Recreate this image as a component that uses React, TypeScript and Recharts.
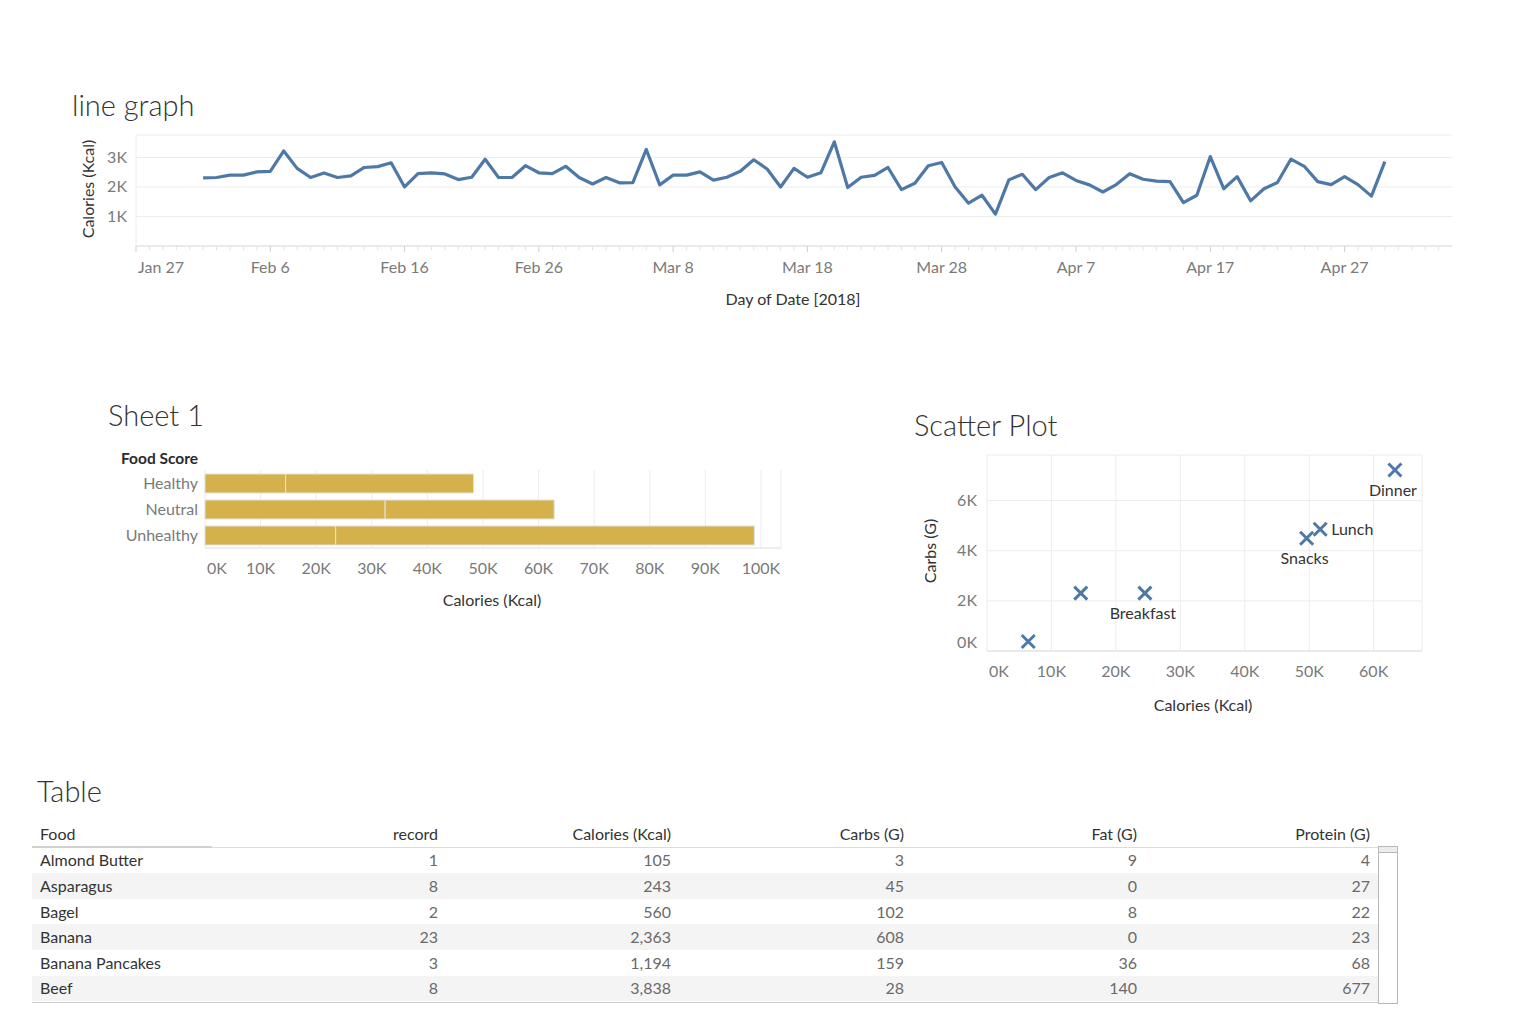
import React from 'react';
import {
  LineChart, Line, XAxis, YAxis, CartesianGrid,
  BarChart, Bar, ScatterChart, Scatter,
} from 'recharts';

const FONT = 'Lato, "Open Sans", "DejaVu Sans", sans-serif';
const BLUE = '#4e79a7';
const GOLD = '#d4b14b';
const GRID = '#ececec';
const AXIS = '#dedede';
const TICK = '#7a7a7a';
const DARK = '#333333';
const TICK_SIZE = 16;
const TEXT_SIZE = 16;
const TITLE_SIZE = 29;

// ---- Daily calories, Feb 1 – Apr 30 2018 ----
const febCalories = [
  2310, 2320, 2400, 2400, 2510, 2530, 3220, 2630, 2320, 2470, 2320, 2375, 2660, 2690,
  2820, 2000, 2450, 2480, 2440, 2250, 2330, 2940, 2320, 2320, 2720, 2480, 2450, 2700,
];
const marCalories = [
  2320, 2100, 2320, 2140, 2150, 3270, 2070, 2400, 2400, 2510, 2230, 2330, 2530, 2920,
  2610, 2000, 2630, 2330, 2480, 3530, 1980, 2330, 2390, 2660, 1910, 2125, 2720, 2830,
  2000, 1450, 1720,
];
const aprCalories = [
  1080, 2240, 2430, 1910, 2320, 2480, 2220, 2070, 1830, 2080, 2450, 2260, 2200, 2180,
  1470, 1720, 3030, 1940, 2350, 1530, 1940, 2150, 2940, 2700, 2180, 2080, 2350, 2080,
  1690, 2860,
];
// x axis counts days after Jan 27; Feb 1 is day 5
const axisStartDay = 0;
const firstDataDay = 5;
const lastAxisDay = 98;
const dateTickDays = [0, 10, 20, 30, 40, 50, 60, 70, 80, 90];
const dateTickLabels = ['Jan 27', 'Feb 6', 'Feb 16', 'Feb 26', 'Mar 8', 'Mar 18', 'Mar 28', 'Apr 7', 'Apr 17', 'Apr 27'];
const calorieTicks = [1000, 2000, 3000];

const dailyCalories = [...febCalories, ...marCalories, ...aprCalories];
const lineData = dailyCalories.map((v, i) => ({ day: firstDataDay + i, calories: v }));
const dayTicks = Array.from({ length: lastAxisDay - axisStartDay }, (_, i) => axisStartDay + i);

// ---- Calories by food score (two stacked parts each) ----
const foodScores = ['Healthy', 'Neutral', 'Unhealthy'];
const scoreFirstPart = [14500, 32400, 23500];
const scoreSecondPart = [33800, 30400, 75300];
const scoreTicks = [0, 10000, 20000, 30000, 40000, 50000, 60000, 70000, 80000, 90000, 100000];
const barData = foodScores.map((s, i) => ({ score: s, first: scoreFirstPart[i], second: scoreSecondPart[i] }));

// ---- Calories vs carbs by meal ----
const mealNames = ['', '', 'Breakfast', 'Snacks', 'Lunch', 'Dinner'];
const mealCalories = [6400, 14550, 24500, 49600, 51700, 63300];
const mealCarbs = [380, 2310, 2310, 4500, 4860, 7220];
const scatterXTicks = [0, 10000, 20000, 30000, 40000, 50000, 60000];
const scatterYTicks = [0, 2000, 4000, 6000];
const scatterData = mealNames.map((m, i) => ({ meal: m, calories: mealCalories[i], carbs: mealCarbs[i] }));

// ---- Table ----
const tableHeaders = ['Food', 'record', 'Calories (Kcal)', 'Carbs (G)', 'Fat (G)', 'Protein (G)'];
const foods = ['Almond Butter', 'Asparagus', 'Bagel', 'Banana', 'Banana Pancakes', 'Beef'];
const records = [1, 8, 2, 23, 3, 8];
const foodCalories = [105, 243, 560, 2363, 1194, 3838];
const foodCarbs = [3, 45, 102, 608, 159, 28];
const foodFat = [9, 0, 8, 0, 36, 140];
const foodProtein = [4, 27, 22, 23, 68, 677];

const kFmt = (v: number) => `${Math.round(v / 1000)}K`;

const Txt = ({ x, y, size = TEXT_SIZE, color = DARK, weight = 400, anchor = 'middle', rotate = false, children }: any) => {
  const tx = anchor === 'middle' ? '-50%' : anchor === 'end' ? '-100%' : '0';
  return (
    <div
      style={{
        position: 'absolute', left: x, top: y, whiteSpace: 'nowrap', fontSize: size, color,
        fontWeight: weight, lineHeight: 1, fontFamily: FONT,
        transform: `translate(${tx}, -50%)${rotate ? ' rotate(-90deg)' : ''}`,
        transformOrigin: rotate ? '50% 50%' : undefined,
      }}
    >
      {children}
    </div>
  );
};

const DateTick = ({ x, y, payload }: any) => {
  const idx = dateTickDays.indexOf(payload.value);
  const major = idx >= 0;
  return (
    <g>
      <line x1={x} x2={x} y1={y} y2={y + (major ? 6 : 4)} stroke={major ? '#cfcfcf' : '#e2e2e2'} />
      {major && (
        <text x={idx === 0 ? x + 2 : x} y={y + 27} textAnchor={idx === 0 ? 'start' : 'middle'}
          fill={TICK} fontSize={TICK_SIZE} fontFamily={FONT}>
          {dateTickLabels[idx]}
        </text>
      )}
    </g>
  );
};

const LeftTick = ({ x, y, payload, gap = 9, zeroLift = 0 }: any) => (
  <text x={x - gap} y={y + 5.5 - (payload.value === 0 ? zeroLift : 0)} textAnchor="end" fill={TICK}
    fontSize={TICK_SIZE} fontFamily={FONT}>
    {typeof payload.value === 'number' ? kFmt(payload.value) : payload.value}
  </text>
);

const BottomTick = ({ x, y, payload }: any) => {
  const first = payload.value === 0;
  return (
    <text x={first ? x + 2 : x} y={y + 26} textAnchor={first ? 'start' : 'middle'} fill={TICK}
      fontSize={TICK_SIZE} fontFamily={FONT}>
      {kFmt(payload.value)}
    </text>
  );
};

const CategoryTick = ({ x, y, payload }: any) => (
  <text x={x - 7} y={y + 5.5} textAnchor="end" fill={TICK} fontSize={TICK_SIZE} fontFamily={FONT}>
    {payload.value}
  </text>
);

// labels sit under their mark except where noted
const labelBeside: Record<string, boolean> = { Lunch: true };

const MealMark = (props: any) => {
  const { cx, cy, payload } = props;
  const r = 6.5;
  const name = payload?.meal;
  return (
    <g>
      <path d={`M${cx - r},${cy - r}L${cx + r},${cy + r}M${cx - r},${cy + r}L${cx + r},${cy - r}`}
        stroke={BLUE} strokeWidth={3} fill="none" />
      {name ? (
        labelBeside[name] ? (
          <text x={cx + 11} y={cy + 5.5} textAnchor="start" fill={DARK} fontSize={TEXT_SIZE} fontFamily={FONT}>{name}</text>
        ) : (
          <text x={cx - 2} y={cy + 26} textAnchor="middle" fill={DARK} fontSize={TEXT_SIZE} fontFamily={FONT}>{name}</text>
        )
      ) : null}
    </g>
  );
};

const colRight = [0, 438, 671, 904, 1137, 1370];
const tableLeft = 32;
const tableRight = 1378;
const headerLineY = 846.5;
const rowH = 25.6;

const DataTable = () => {
  const rows = foods.map((f, i) => [f, records[i], foodCalories[i], foodCarbs[i], foodFat[i], foodProtein[i]]);
  return (
    <>
      <Txt x={37} y={790} size={TITLE_SIZE} weight={300} anchor="start">Table</Txt>
      {tableHeaders.map((h, c) => (
        <Txt key={h} x={c === 0 ? 40 : colRight[c]} y={834} anchor={c === 0 ? 'start' : 'end'}>{h}</Txt>
      ))}
      <div style={{ position: 'absolute', left: tableLeft, top: headerLineY, width: tableRight - tableLeft, height: 1, background: '#dcdcdc' }} />
      <div style={{ position: 'absolute', left: tableLeft, top: headerLineY - 1, width: 180, height: 2, background: '#d0d0d0' }} />
      {rows.map((r, i) => {
        const top = headerLineY + 1 + i * rowH;
        return (
          <React.Fragment key={i}>
            {i % 2 === 1 && (
              <div style={{ position: 'absolute', left: tableLeft, top, width: tableRight - tableLeft, height: rowH, background: '#f4f4f4' }} />
            )}
            {r.map((v, c) => (
              <Txt key={c} x={c === 0 ? 40 : colRight[c]} y={top + rowH / 2} anchor={c === 0 ? 'start' : 'end'}
                color={c === 0 ? DARK : '#6a6a6a'}>
                {typeof v === 'number' ? v.toLocaleString('en-US') : v}
              </Txt>
            ))}
          </React.Fragment>
        );
      })}
      <div style={{ position: 'absolute', left: tableLeft, top: headerLineY + 1 + 6 * rowH + 1, width: tableRight - tableLeft, height: 1, background: '#cfcfcf' }} />
      <div style={{ position: 'absolute', left: 1378, top: 846, width: 18, height: 156, border: '1px solid #b8b8b8', background: '#fff' }} />
      <div style={{ position: 'absolute', left: 1379, top: 847, width: 18, height: 5, borderBottom: '1px solid #b8b8b8', background: '#ececec' }} />
    </>
  );
};

export default function App() {
  return (
    <div style={{ position: 'absolute', left: 0, top: 0, width: 1536, height: 1024, background: '#fff', overflow: 'hidden', fontFamily: FONT }}>
      {/* Daily calories line */}
      <Txt x={72} y={104} size={TITLE_SIZE} weight={300} anchor="start">line graph</Txt>
      <Txt x={88} y={189} rotate>Calories (Kcal)</Txt>
      <Txt x={793} y={299}>Day of Date [2018]</Txt>
      <div style={{ position: 'absolute', left: 60, top: 120 }}>
        <LineChart width={1410} height={160} data={lineData} margin={{ top: 15, right: 18, bottom: 0, left: 0 }}>
          <CartesianGrid vertical={false} stroke={GRID} />
          <XAxis dataKey="day" type="number" domain={[axisStartDay, lastAxisDay]} ticks={dayTicks} interval={0}
            height={34} tickSize={0} tickMargin={0} tickLine={false} axisLine={{ stroke: AXIS }} tick={<DateTick />} />
          <YAxis type="number" domain={[0, 3760]} ticks={calorieTicks} width={76} tickSize={0} tickMargin={0}
            tickLine={false} axisLine={{ stroke: '#ececec' }} tick={<LeftTick gap={9} />} />
          <Line dataKey="calories" stroke={BLUE} strokeWidth={3.2} dot={false} isAnimationActive={false} strokeLinejoin="round" />
        </LineChart>
      </div>

      {/* Calories by food score */}
      <Txt x={108} y={414} size={TITLE_SIZE} weight={300} anchor="start">Sheet 1</Txt>
      <Txt x={198} y={459} anchor="end" weight={700} size={15.5} color="#2b2b2b">Food Score</Txt>
      <Txt x={492} y={600}>Calories (Kcal)</Txt>
      <div style={{ position: 'absolute', left: 100, top: 440 }}>
        <BarChart width={700} height={180} data={barData} layout="vertical" margin={{ top: 30, right: 19, bottom: 42, left: 0 }}>
          <CartesianGrid horizontal={false} stroke={GRID} />
          <XAxis type="number" domain={[0, 103600]} ticks={scoreTicks} height={30} tickSize={0} tickMargin={0}
            tickLine={false} axisLine={{ stroke: AXIS }} tick={<BottomTick />} />
          <YAxis type="category" dataKey="score" width={105} tickSize={0} tickMargin={0} tickLine={false}
            axisLine={false} tick={<CategoryTick />} />
          <Bar dataKey="first" stackId="s" fill={GOLD} stroke="#e2e2e2" strokeWidth={1} barSize={19} isAnimationActive={false} />
          <Bar dataKey="second" stackId="s" fill={GOLD} stroke="#e2e2e2" strokeWidth={1} barSize={19} isAnimationActive={false} />
        </BarChart>
      </div>

      {/* Calories vs carbs by meal */}
      <Txt x={914} y={424} size={TITLE_SIZE} weight={300} anchor="start">Scatter Plot</Txt>
      <Txt x={930} y={551} rotate>Carbs (G)</Txt>
      <Txt x={1203} y={705}>Calories (Kcal)</Txt>
      <div style={{ position: 'absolute', left: 900, top: 440 }}>
        <ScatterChart width={540} height={280} margin={{ top: 15, right: 18, bottom: 39, left: 0 }}>
          <CartesianGrid stroke={GRID} />
          <XAxis type="number" dataKey="calories" domain={[0, 67500]} ticks={scatterXTicks} height={30}
            tickSize={0} tickMargin={0} tickLine={false} axisLine={{ stroke: AXIS }} tick={<BottomTick />} />
          <YAxis type="number" dataKey="carbs" domain={[0, 7820]} ticks={scatterYTicks} width={87}
            tickSize={0} tickMargin={0} tickLine={false} axisLine={false} tick={<LeftTick gap={10} zeroLift={9} />} />
          <Scatter data={scatterData} shape={<MealMark />} isAnimationActive={false} />
        </ScatterChart>
      </div>

      <DataTable />
    </div>
  );
}
